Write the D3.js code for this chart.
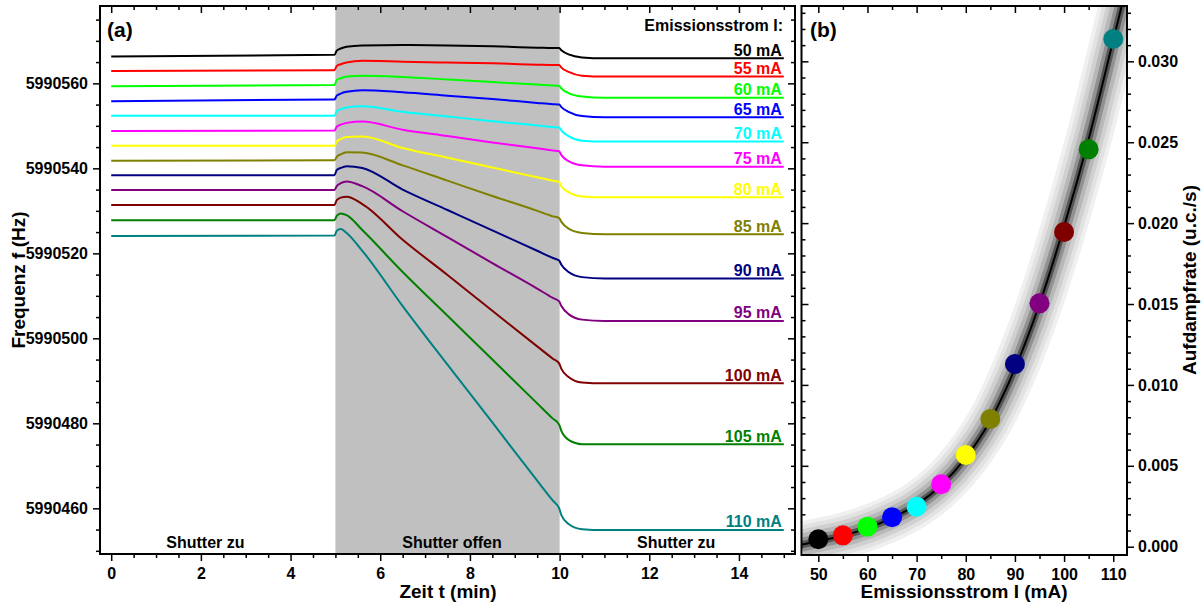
<!DOCTYPE html>
<html>
<head>
<meta charset="utf-8">
<script src="https://cdn.jsdelivr.net/npm/d3@7"></script>
<style>
  body { margin: 0; background: #fff; }
  svg text { font-family: "Liberation Sans", Arial, Helvetica, sans-serif; font-weight: bold; }
</style>
</head>
<body>
<svg id="chart" width="1204" height="605"></svg>
<script>
// ---- data ----
// panel (a): time grid (min) and frequency traces (Hz), one per emission current
var timeGrid = [0, 4.98, 5.03, 5.12, 5.25, 5.6, 6.5, 7.5, 8.5, 9.5, 9.85, 9.99, 10.04, 10.2, 10.5, 11, 15];
var f50  = [5990566.3, 5990566.7, 5990567.7, 5990568.2, 5990568.6, 5990568.9, 5990569.0, 5990568.9, 5990568.7, 5990568.4, 5990568.3, 5990568.3, 5990567.8, 5990566.8, 5990566.1, 5990565.9, 5990565.9];
var f55  = [5990562.9, 5990563.1, 5990564.1, 5990564.5, 5990564.9, 5990565.3, 5990565.1, 5990564.9, 5990564.7, 5990564.4, 5990564.3, 5990564.3, 5990563.7, 5990562.7, 5990561.8, 5990561.6, 5990561.6];
var f60  = [5990559.3, 5990559.6, 5990560.8, 5990561.2, 5990561.6, 5990561.8, 5990561.5, 5990560.9, 5990560.3, 5990559.7, 5990559.5, 5990559.4, 5990558.8, 5990557.7, 5990556.9, 5990556.6, 5990556.6];
var f65  = [5990555.8, 5990556.2, 5990557.1, 5990557.6, 5990558.0, 5990558.4, 5990557.9, 5990557.1, 5990556.3, 5990555.4, 5990555.1, 5990555.0, 5990554.4, 5990553.3, 5990552.3, 5990552.0, 5990552.0];
var f70  = [5990552.4, 5990552.4, 5990553.5, 5990553.9, 5990554.3, 5990554.6, 5990553.3, 5990552.2, 5990551.1, 5990550.1, 5990549.7, 5990549.6, 5990548.9, 5990547.6, 5990546.5, 5990546.3, 5990546.3];
var f75  = [5990548.8, 5990548.9, 5990549.8, 5990550.3, 5990550.7, 5990551.0, 5990549.1, 5990547.6, 5990546.1, 5990544.7, 5990544.2, 5990544.0, 5990543.1, 5990541.7, 5990540.7, 5990540.4, 5990540.4];
var f80  = [5990545.3, 5990545.3, 5990546.3, 5990546.9, 5990547.4, 5990547.5, 5990544.8, 5990542.5, 5990540.2, 5990537.9, 5990537.1, 5990536.8, 5990535.8, 5990534.4, 5990533.4, 5990533.2, 5990533.2];
var f85  = [5990541.8, 5990541.9, 5990542.7, 5990543.3, 5990543.8, 5990543.7, 5990540.7, 5990537.1, 5990533.5, 5990530.0, 5990528.7, 5990528.3, 5990527.4, 5990525.8, 5990524.8, 5990524.5, 5990524.5];
var f90  = [5990538.4, 5990538.4, 5990539.6, 5990540.1, 5990540.5, 5990540.1, 5990535.0, 5990530.2, 5990525.4, 5990520.6, 5990518.9, 5990518.3, 5990517.3, 5990515.6, 5990514.4, 5990514.1, 5990514.1];
var f95  = [5990534.9, 5990534.9, 5990535.8, 5990536.5, 5990536.9, 5990535.8, 5990529.9, 5990523.8, 5990517.7, 5990511.7, 5990509.5, 5990508.7, 5990507.6, 5990505.7, 5990504.4, 5990504.1, 5990504.1];
var f100 = [5990531.4, 5990531.4, 5990532.5, 5990533.1, 5990533.3, 5990531.6, 5990523.2, 5990514.9, 5990506.5, 5990498.1, 5990495.2, 5990494.1, 5990492.8, 5990490.9, 5990489.6, 5990489.4, 5990489.4];
var f105 = [5990527.8, 5990527.8, 5990528.8, 5990529.4, 5990529.0, 5990525.5, 5990515.6, 5990505.3, 5990495.0, 5990484.7, 5990481.1, 5990479.7, 5990478.2, 5990476.1, 5990475.1, 5990475.1, 5990475.1];
var f110 = [5990524.1, 5990524.2, 5990525.3, 5990525.7, 5990524.8, 5990520.6, 5990507.6, 5990493.8, 5990480.2, 5990466.5, 5990461.8, 5990460.0, 5990458.4, 5990456.3, 5990455.1, 5990454.9, 5990454.9];

var currents = [50, 55, 60, 65, 70, 75, 80, 85, 90, 95, 100, 105, 110];
var colors = ["#000000", "#ff0000", "#00ff00", "#0000ff", "#00ffff", "#ff00ff", "#ffff00",
              "#808000", "#000080", "#800080", "#800000", "#008000", "#008080"];
var traces = [f50, f55, f60, f65, f70, f75, f80, f85, f90, f95, f100, f105, f110];

var shutterText = ["Shutter zu", "Shutter offen", "Shutter zu"];
var shutterAt = [2.1, 7.6, 12.6];

// panel (b): deposition rate (u.c./s) per current, and the fit curve
var rates = [0.00046, 0.0007, 0.00124, 0.00182, 0.00247, 0.00386, 0.00567, 0.00789, 0.01129, 0.01504, 0.01945, 0.02456, 0.03138];
var fitCurrent = [46.6, 50, 55, 60, 65, 70, 75, 80, 85, 90, 95, 100, 105, 110, 113];
var fitRate = [0.00012, 0.00035, 0.00068, 0.00115, 0.00178, 0.0026, 0.0038, 0.0055, 0.0078, 0.011, 0.015, 0.0198, 0.0252, 0.0313, 0.035];

var svg = d3.select("#chart");

function styleAxis(g, size) {
  g.select(".domain").remove();
  g.selectAll("line").attr("stroke", "#000").attr("stroke-width", 1.5);
  g.selectAll("text").attr("fill", "#000").style("font-size", size + "px");
}
function minorOf(list, majors) {
  return list.filter(function(v) {
    return !majors.some(function(m) { return Math.abs(m - v) < 1e-9; });
  });
}

// ================= panel (a) =================
var xA = d3.scaleLinear().domain([-0.25, 15.25]).range([100, 795]);
var yA = d3.scaleLinear().domain([5990449.25, 5990578.2]).range([554, 6]);

// shutter open region
svg.append("rect")
  .attr("x", xA(5)).attr("y", 6)
  .attr("width", xA(10) - xA(5)).attr("height", 548)
  .attr("fill", "#c0c0c0");

var xMajA = d3.range(0, 15.01, 2);
var xMinA = minorOf(d3.range(0, 15.01, 0.5), xMajA);
var yMajA = d3.range(5990460, 5990561, 20);
var yMinA = minorOf(d3.range(5990450, 5990576, 5), yMajA);

// bottom axis with labels, top mirror ticks
svg.append("g").attr("transform", "translate(0,554)")
  .call(d3.axisBottom(xA).tickValues(xMajA).tickSize(7).tickPadding(7).tickFormat(d3.format("d")))
  .call(styleAxis, 16);
svg.append("g").attr("transform", "translate(0,554)")
  .call(d3.axisBottom(xA).tickValues(xMinA).tickSize(4).tickFormat(""))
  .call(styleAxis, 16);
svg.append("g").attr("transform", "translate(0,6)")
  .call(d3.axisTop(xA).tickValues(xMajA).tickSize(-7).tickFormat(""))
  .call(styleAxis, 16);
svg.append("g").attr("transform", "translate(0,6)")
  .call(d3.axisTop(xA).tickValues(xMinA).tickSize(-4).tickFormat(""))
  .call(styleAxis, 16);

// left axis with labels, right mirror ticks
svg.append("g").attr("transform", "translate(100,0)")
  .call(d3.axisLeft(yA).tickValues(yMajA).tickSize(7).tickPadding(5).tickFormat(d3.format("d")))
  .call(styleAxis, 16);
svg.append("g").attr("transform", "translate(100,0)")
  .call(d3.axisLeft(yA).tickValues(yMinA).tickSize(4).tickFormat(""))
  .call(styleAxis, 16);
svg.append("g").attr("transform", "translate(795,0)")
  .call(d3.axisRight(yA).tickValues(yMajA).tickSize(-7).tickFormat(""))
  .call(styleAxis, 16);
svg.append("g").attr("transform", "translate(795,0)")
  .call(d3.axisRight(yA).tickValues(yMinA).tickSize(-4).tickFormat(""))
  .call(styleAxis, 16);

var lineA = d3.line()
  .x(function(d) { return xA(d[0]); })
  .y(function(d) { return yA(d[1]); })
  .curve(d3.curveMonotoneX);

traces.forEach(function(tr, i) {
  var pts = timeGrid.map(function(t, j) { return [t, tr[j]]; });
  svg.append("path")
    .datum(pts)
    .attr("d", lineA)
    .attr("fill", "none")
    .attr("stroke", colors[i])
    .attr("stroke-width", 2);
  svg.append("text")
    .attr("x", xA(15) - 2)
    .attr("y", yA(tr[tr.length - 1]) - 2.5)
    .attr("text-anchor", "end")
    .attr("fill", colors[i])
    .style("font-size", "16px")
    .text(currents[i] + " mA");
});

svg.append("text").attr("x", 783).attr("y", 31).attr("text-anchor", "end")
  .style("font-size", "16px").text("Emissionsstrom I:");
svg.append("text").attr("x", 107).attr("y", 37).style("font-size", "21px").text("(a)");

shutterText.forEach(function(s, i) {
  svg.append("text")
    .attr("x", xA(shutterAt[i])).attr("y", 548)
    .attr("text-anchor", "middle")
    .style("font-size", "16px")
    .text(s);
});

svg.append("text").attr("x", 448).attr("y", 598).attr("text-anchor", "middle")
  .style("font-size", "19px").text("Zeit t (min)");
svg.append("text").attr("transform", "translate(25,280) rotate(-90)")
  .attr("text-anchor", "middle").style("font-size", "19px").text("Frequenz f (Hz)");

svg.append("rect").attr("x", 100).attr("y", 6).attr("width", 695).attr("height", 548)
  .attr("fill", "none").attr("stroke", "#000").attr("stroke-width", 2);

// ================= panel (b) =================
var xB = d3.scaleLinear().domain([46.58, 112.8]).range([801.5, 1127]);
var yB = d3.scaleLinear().domain([-0.000513, 0.03342]).range([555, 6]);

svg.append("clipPath").attr("id", "clipB")
  .append("rect").attr("x", 801.5).attr("y", 6).attr("width", 325.5).attr("height", 549);

var xMajB = d3.range(50, 111, 10);
var xMinB = minorOf(d3.range(50, 111, 5), xMajB);
var yMajB = d3.range(0, 7).map(function(i) { return i * 0.005; });
var yMinB = minorOf(d3.range(0, 34).map(function(i) { return i / 1000; }), yMajB);

svg.append("g").attr("transform", "translate(0,555)")
  .call(d3.axisBottom(xB).tickValues(xMajB).tickSize(7).tickPadding(7).tickFormat(d3.format("d")))
  .call(styleAxis, 16);
svg.append("g").attr("transform", "translate(0,555)")
  .call(d3.axisBottom(xB).tickValues(xMinB).tickSize(4).tickFormat(""))
  .call(styleAxis, 16);
svg.append("g").attr("transform", "translate(0,6)")
  .call(d3.axisTop(xB).tickValues(xMajB).tickSize(-7).tickFormat(""))
  .call(styleAxis, 16);
svg.append("g").attr("transform", "translate(0,6)")
  .call(d3.axisTop(xB).tickValues(xMinB).tickSize(-4).tickFormat(""))
  .call(styleAxis, 16);

svg.append("g").attr("transform", "translate(1127,0)")
  .call(d3.axisRight(yB).tickValues(yMajB).tickSize(7).tickPadding(4).tickFormat(d3.format(".3f")))
  .call(styleAxis, 16);
svg.append("g").attr("transform", "translate(1127,0)")
  .call(d3.axisRight(yB).tickValues(yMinB).tickSize(4).tickFormat(""))
  .call(styleAxis, 16);
svg.append("g").attr("transform", "translate(801.5,0)")
  .call(d3.axisLeft(yB).tickValues(yMajB).tickSize(-7).tickFormat(""))
  .call(styleAxis, 16);
svg.append("g").attr("transform", "translate(801.5,0)")
  .call(d3.axisLeft(yB).tickValues(yMinB).tickSize(-4).tickFormat(""))
  .call(styleAxis, 16);

// fit curve with shaded confidence bands
var fitPts = fitCurrent.map(function(c, i) { return [c, fitRate[i]]; });
var lineB = d3.line()
  .x(function(d) { return xB(d[0]); })
  .y(function(d) { return yB(d[1]); })
  .curve(d3.curveMonotoneX);

var bandWidths = [46, 38, 30, 22, 14, 7];
var bandGreys = ["#f0f0f0", "#e2e2e2", "#d0d0d0", "#b8b8b8", "#919191", "#555555"];
var fitG = svg.append("g").attr("clip-path", "url(#clipB)");
bandWidths.forEach(function(w, i) {
  fitG.append("path").datum(fitPts).attr("d", lineB)
    .attr("fill", "none").attr("stroke", bandGreys[i])
    .attr("stroke-width", w).attr("stroke-linejoin", "round");
});
fitG.append("path").datum(fitPts).attr("d", lineB)
  .attr("fill", "none").attr("stroke", "#000").attr("stroke-width", 2);

fitG.selectAll("circle.pt")
  .data(currents)
  .enter().append("circle")
  .attr("class", "pt")
  .attr("cx", function(d) { return xB(d); })
  .attr("cy", function(d, i) { return yB(rates[i]); })
  .attr("r", 10)
  .attr("fill", function(d, i) { return colors[i]; });

svg.append("text").attr("x", 810).attr("y", 37).style("font-size", "21px").text("(b)");
svg.append("text").attr("x", 964).attr("y", 598).attr("text-anchor", "middle")
  .style("font-size", "19px").text("Emissionsstrom I (mA)");
svg.append("text").attr("transform", "translate(1196,280) rotate(-90)")
  .attr("text-anchor", "middle").style("font-size", "19px").text("Aufdampfrate (u.c./s)");

svg.append("rect").attr("x", 801.5).attr("y", 6).attr("width", 325.5).attr("height", 549)
  .attr("fill", "none").attr("stroke", "#000").attr("stroke-width", 2);
</script>
</body>
</html>
